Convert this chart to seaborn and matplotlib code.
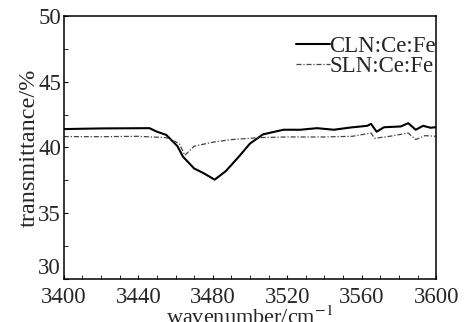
import seaborn as sns
import pandas as pd
import matplotlib.pyplot as plt
from matplotlib.ticker import MultipleLocator

# CLN:Ce:Fe (solid)
cln_x = [3400, 3420, 3446, 3450, 3455, 3461, 3464, 3470, 3475, 3481, 3487, 3494,
         3500, 3507, 3518, 3527, 3536, 3545, 3554, 3563, 3565, 3568, 3572, 3581,
         3585, 3589, 3593, 3597, 3600]
cln_y = [41.4, 41.45, 41.47, 41.2, 40.96, 40.1, 39.3, 38.4, 38.05, 37.55, 38.2, 39.3,
         40.3, 41.0, 41.35, 41.35, 41.47, 41.35, 41.52, 41.65, 41.8, 41.2, 41.54, 41.6,
         41.85, 41.35, 41.65, 41.5, 41.55]

# SLN:Ce:Fe (dash-dot)
sln_x = [3400, 3420, 3440, 3455, 3462, 3465, 3470, 3480, 3490, 3505, 3520, 3540,
         3555, 3565, 3567, 3575, 3585, 3589, 3594, 3600]
sln_y = [40.83, 40.82, 40.85, 40.75, 40.3, 39.4, 40.1, 40.4, 40.6, 40.75, 40.8, 40.8,
         40.85, 41.1, 40.7, 40.85, 41.1, 40.6, 40.9, 40.85]

df = pd.concat([
    pd.DataFrame({"x": cln_x, "y": cln_y, "s": "CLN:Ce:Fe"}),
    pd.DataFrame({"x": sln_x, "y": sln_y, "s": "SLN:Ce:Fe"}),
])

sns.set_style("ticks")
plt.rcParams['font.family'] = ['Liberation Serif', 'DejaVu Serif']
plt.rcParams['mathtext.fontset'] = 'stix'

fig = plt.figure(figsize=(4.66, 3.22), dpi=100)
ax = fig.add_axes([0.137, 0.134, 0.799, 0.816])

sns.lineplot(data=df[df.s == "CLN:Ce:Fe"], x="x", y="y", ax=ax, color="black",
             lw=1.5, label="CLN:Ce:Fe")
sns.lineplot(data=df[df.s == "SLN:Ce:Fe"], x="x", y="y", ax=ax, color="#444444",
             lw=0.9, linestyle=(0, (4, 1.5, 1, 1.5)), label="SLN:Ce:Fe")

ax.set_xlim(3400, 3600)
ax.set_ylim(30, 50)
ax.xaxis.set_major_locator(MultipleLocator(40))
ax.xaxis.set_minor_locator(MultipleLocator(10))
ax.yaxis.set_major_locator(MultipleLocator(5))
ax.yaxis.set_minor_locator(MultipleLocator(2.5))
ax.tick_params(which="both", direction="in", labelsize=16.5, color="black")
ax.tick_params(axis="x", pad=6)
ax.tick_params(axis="y", pad=2)
ax.tick_params(which="both", length=3)
for sp in ax.spines.values():
    sp.set_color("black")
    sp.set_linewidth(1.1)

ax.set_xlabel("wavenumber/cm$^{-1}$", fontsize=16, labelpad=-1)
ax.set_ylabel("transmittance/%", fontsize=17.5, labelpad=-1)

ax.legend(loc="upper right", bbox_to_anchor=(1.0, 0.925), frameon=False,
          fontsize=16.5, handlelength=1.45, handletextpad=0, borderaxespad=0,
          labelspacing=-0.05, borderpad=0)

# lowest y label ("30") sits above the axis line in the reference
fig.canvas.draw()
for tick in ax.yaxis.get_major_ticks():
    if abs(tick.get_loc() - 30) < 1e-6:
        tick.label1.set_verticalalignment("bottom")

fig.savefig("out.png", dpi=100)
